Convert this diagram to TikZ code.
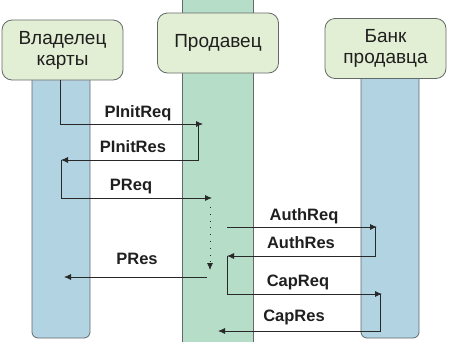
\documentclass[tikz,border=0pt]{standalone}
\usepackage{fontspec}
\setmainfont{Liberation Sans}
\usetikzlibrary{arrows.meta}
\definecolor{boxfill}{RGB}{227,239,212}
\definecolor{bluebar}{RGB}{178,211,226}
\definecolor{greenbar}{RGB}{182,221,200}
\definecolor{edgecol}{RGB}{100,106,106}
\definecolor{msgcol}{RGB}{40,40,40}
\begin{document}
\begin{tikzpicture}[x=1pt,y=-1pt,
  actor/.style={draw=edgecol, fill=boxfill, rounded corners=10pt, line width=0.8pt,
    minimum width=121pt, minimum height=60pt, align=center, inner sep=0pt,
    font=\fontsize{19}{21}\selectfont, text=black!88},
  lane/.style={draw=edgecol, line width=0.8pt},
  msg/.style={draw=msgcol, line width=0.8pt, -{Latex[length=7pt,width=6pt]}},
  sparse/.style={dash pattern=on 0.8pt off 6pt},
  lbl/.style={font=\bfseries\fontsize{16.5}{18}\selectfont, text=black!88, inner sep=0pt}]
\useasboundingbox (0,0) rectangle (450,341);
% lanes
\draw[lane, fill=bluebar, rounded corners=6pt] (32,60) rectangle (90,338);
\draw[lane, fill=greenbar] (182,-2) rectangle (253,343);
\draw[lane, fill=bluebar, rounded corners=6pt] (361,60) rectangle (419,338);
% actors
\node[actor] (holder) at (62.5,50) {Владелец\\карты};
\node[actor] (seller) at (218,43) {Продавец};
\node[actor] (bank) at (385.5,48.5) {Банк\\продавца};
% message points
\coordinate (p0) at (60,80);
\coordinate (p1) at (203,124);
\coordinate (p2) at (198,124);
\coordinate (p3) at (61,160);
\coordinate (p4) at (212,198);
\coordinate (d0) at (210,207);
\coordinate (d1) at (210,270);
\coordinate (q0) at (227,227);
\coordinate (q1) at (377,227);
\coordinate (q2) at (375,227);
\coordinate (q3) at (227,256);
\coordinate (q4) at (382,294);
\coordinate (q5) at (380,294);
\coordinate (q6) at (218,331);
\coordinate (r0) at (207,277);
\coordinate (r1) at (64,277);
% messages
\draw[msg] (p0) |- (p1);
\draw[msg] (p2) |- (p3);
\draw[msg] (p3) |- (p4);
\draw[msg, sparse] (d0) -- (d1);
\draw[msg] (q0) -- (q1);
\draw[msg] (q2) |- (q3);
\draw[msg] (r0) -- (r1);
\draw[msg] (q3) |- (q4);
\draw[msg] (q5) |- (q6);
% labels
\node[lbl] (l1) at (138,113) {PInitReq};
\node[lbl] (l2) at (133,147) {PInitRes};
\node[lbl] (l3) at (131,187) {PReq};
\node[lbl] (l4) at (304,216) {AuthReq};
\node[lbl] (l5) at (301,243) {AuthRes};
\node[lbl] (l6) at (137,259) {PRes};
\node[lbl] (l7) at (298,282) {CapReq};
\node[lbl] (l8) at (294,317) {CapRes};
\end{tikzpicture}
\end{document}
